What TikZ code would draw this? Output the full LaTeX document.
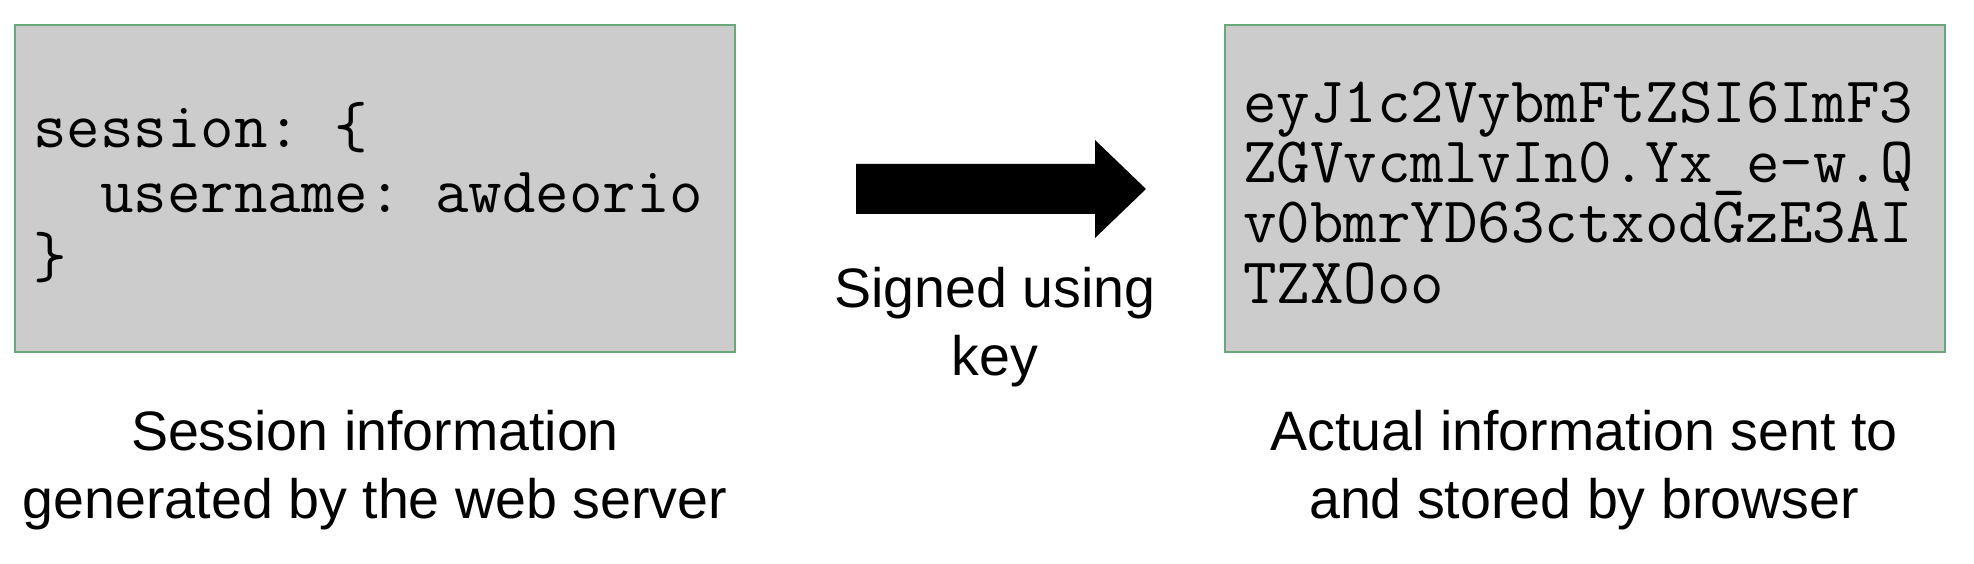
\documentclass[tikz,border=0pt]{standalone}
\usepackage{fontspec}
\setsansfont{Liberation Sans}
\usepackage{tikz}
\usetikzlibrary{positioning}
\definecolor{boxgray}{HTML}{CCCCCC}
\definecolor{boxgreen}{HTML}{6AA87C}

\begin{document}
\begin{tikzpicture}[
    x=0.01cm, y=-0.01cm,
    every node/.style={font=\sffamily\fontsize{15.8pt}{19.3pt}\selectfont},
    box/.style={draw=boxgreen, line width=0.6pt, fill=boxgray,
      minimum width=7.2cm, minimum height=3.27cm, inner sep=0pt},
    code/.style={anchor=west, align=left, inner sep=0pt,
      xshift=0.19cm, yshift=-0.045cm},
    caption/.style={align=center},
  ]
  \useasboundingbox (0,0) rectangle (1974,564);

  % ── Nodes ────────────────────────────────────────────────────────────────

  % Boxes
  \node[box] (SessBox)  at ( 375, 188.5) {};
  \node[box] (TokenBox) at (1585, 188.5) {};

  % Box contents
  \node[code, font=\ttfamily\frenchspacing\fontsize{18.5pt}{18.5pt}\selectfont]
    (SessCode) at (SessBox.west)
    {session: \{\\\phantom{xx}username: awdeorio\\\}};
  \node[code, font=\ttfamily\frenchspacing\fontsize{18.5pt}{17.1pt}\selectfont]
    (TokenCode) at (TokenBox.west)
    {eyJ1c2VybmFtZSI6ImF3\\ZGVvcmlvIn0.Yx\_e-w.Q\\v0bmrYD63ctxodGzE3AI\\TZXOoo};

  % Labels
  \node[caption] (SignLbl)  at ( 995, 327) {Signed using\\key};
  \node[caption] (SessLbl)  at ( 375, 470) {Session information\\generated by the web server};
  \node[caption] (TokenLbl) at (1584, 470) {Actual information sent to\\and stored by browser};

  % ── Arrow ────────────────────────────────────────────────────────────────

  \fill (856,164) -- (1095,164) -- (1095,140) -- (1146,189)
        -- (1095,238) -- (1095,214) -- (856,214) -- cycle;

\end{tikzpicture}
\end{document}
